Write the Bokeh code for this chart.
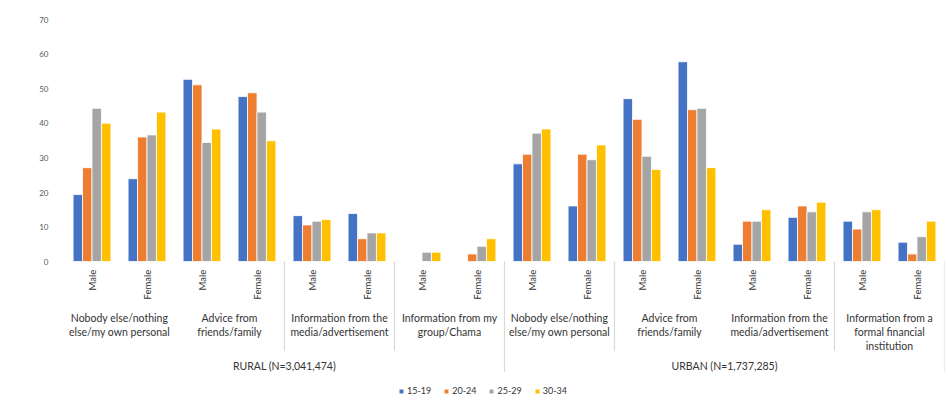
import math

from bokeh.core.properties import value
from bokeh.embed import file_html
from bokeh.models import (ColumnDataSource, FactorRange, FixedTicker, Label,
                          Legend, LegendItem, Range1d)
from bokeh.plotting import figure
from bokeh.resources import INLINE
from bokeh.transform import dodge

# ---- data -------------------------------------------------------------
areas = ["RURAL (N=3,041,474)", "URBAN (N=1,737,285)"]
rural_sources = [
    "Nobody else/nothing\nelse/my own personal",
    "Advice from\nfriends/family",
    "Information from the\nmedia/advertisement",
    "Information from my\ngroup/Chama",
]
urban_sources = [
    "Nobody else/nothing\nelse/my own personal",
    "Advice from\nfriends/family",
    "Information from the\nmedia/advertisement",
    "Information from a\nformal financial\ninstitution",
]
genders = ["Male", "Female"]
age_groups = ["15-19", "20-24", "25-29", "30-34"]

# percent, in factor order (area, source, gender)
pct_15_19 = [19.4, 24.0, 52.8, 47.8, 13.3, 13.9, 0.0, 0.0,
             28.3, 16.1, 47.2, 57.9, 5.0, 12.8, 11.7, 5.6]
pct_20_24 = [27.2, 36.1, 51.2, 48.9, 10.6, 6.6, 0.0, 2.2,
             31.1, 31.1, 41.2, 44.0, 11.7, 16.1, 9.4, 2.2]
pct_25_29 = [44.4, 36.7, 34.5, 43.3, 11.7, 8.3, 2.7, 4.4,
             37.2, 29.5, 30.5, 44.4, 11.7, 14.4, 14.4, 7.2]
pct_30_34 = [40.1, 43.3, 38.4, 35.0, 12.2, 8.3, 2.7, 6.6,
             38.4, 33.8, 26.7, 27.2, 15.0, 17.2, 15.0, 11.7]

colors = ["#4472C4", "#ED7D31", "#A5A5A5", "#FFC000"]
y_ticks = [0, 10, 20, 30, 40, 50, 60, 70]

# ---- factors ----------------------------------------------------------
area_sources = [rural_sources, urban_sources]
factors = [(a, s, g) for a, srcs in zip(areas, area_sources) for s in srcs for g in genders]
mid_factors = [(a, s) for a, srcs in zip(areas, area_sources) for s in srcs]

FONT_NAME = "Lato"
FONT = value(FONT_NAME)
TEXT = "#333333"

x_range = FactorRange(factors=factors, group_padding=0, subgroup_padding=0,
                      factor_padding=0, range_padding=0)
p = figure(width=948, height=402, x_range=x_range, y_range=Range1d(-39.7, 71.3),
           output_backend="svg", toolbar_location=None,
           min_border_left=64, min_border_right=4, min_border_top=15, min_border_bottom=4)
p.xaxis.visible = False
p.xgrid.grid_line_color = None
p.ygrid.grid_line_color = None
p.outline_line_color = None

yax = p.yaxis[0]
yax.ticker = FixedTicker(ticks=y_ticks)
yax.axis_line_color = None
yax.major_tick_line_color = None
yax.minor_tick_line_color = None
yax.major_label_standoff = 10
yax.major_label_text_font = FONT_NAME
yax.major_label_text_font_size = "8px"
yax.major_label_text_color = "#595959"

# ---- clustered bars ---------------------------------------------------
src = ColumnDataSource(dict(x=factors, a=pct_15_19, b=pct_20_24, c=pct_25_29, d=pct_30_34))
bar_w = 0.172
items = []
for i, (col, label, color) in enumerate(zip(["a", "b", "c", "d"], age_groups, colors)):
    r = p.vbar(x=dodge("x", (i - 1.5) * bar_w, range=p.x_range), top=col, bottom=0,
               width=bar_w, source=src, fill_color=color, line_color="white", line_width=0.8)
    items.append(LegendItem(label=label, renderers=[r]))

# ---- category labels drawn under the baseline -------------------------
leaf_src = ColumnDataSource(dict(x=factors, t=[f[2] for f in factors]))
p.text(x="x", y=-2.4, text="t", source=leaf_src, angle=math.pi / 2,
       text_align="right", text_baseline="middle", text_font=FONT,
       text_font_size="9.5px", text_color=TEXT)

mid_src = ColumnDataSource(dict(x=mid_factors, t=[m[1] for m in mid_factors]))
p.text(x="x", y=-14.5, text="t", source=mid_src, text_align="center",
       text_baseline="top", text_font=FONT, text_font_size="10.5px",
       text_line_height=1.2, text_color=TEXT)

top_src = ColumnDataSource(dict(x=areas, t=areas))
p.text(x="x", y=-30.4, text="t", source=top_src, text_align="center",
       text_baseline="middle", text_font=FONT, text_font_size="10.5px", text_color=TEXT)

# separators between category groups
sep_after = [
    (areas[0], rural_sources[1], "Female"),
    (areas[0], rural_sources[2], "Female"),
    (areas[0], rural_sources[3], "Female"),
    (areas[1], urban_sources[0], "Female"),
    (areas[1], urban_sources[2], "Female"),
    (areas[1], urban_sources[3], "Female"),
]
sep_len = [-25.8, -25.8, -32.0, -25.8, -25.8, -32.0]
sep_src = ColumnDataSource(dict(x=sep_after, y1=sep_len))
p.segment(x0=dodge("x", 0.5, range=p.x_range), y0=0,
          x1=dodge("x", 0.5, range=p.x_range), y1="y1",
          source=sep_src, line_color="#D9D9D9", line_width=1.2)

# axis title
p.add_layout(Label(x=-34, y=35, x_units="screen", y_units="data", text="Percent",
                   angle=math.pi / 2, text_align="center", text_baseline="middle",
                   text_font=FONT_NAME, text_font_size="8.5px", text_font_style="bold",
                   text_color="#262626"))

legend = Legend(items=items, orientation="horizontal", location=(334, 2),
                glyph_width=6, glyph_height=6, label_height=10, label_standoff=3,
                spacing=12, padding=0, margin=0, border_line_color=None,
                background_fill_alpha=0, label_text_font=FONT_NAME,
                label_text_font_size="9px", label_text_color=TEXT)
p.add_layout(legend, "center")

open("out.html", "w").write(file_html(p, INLINE))
